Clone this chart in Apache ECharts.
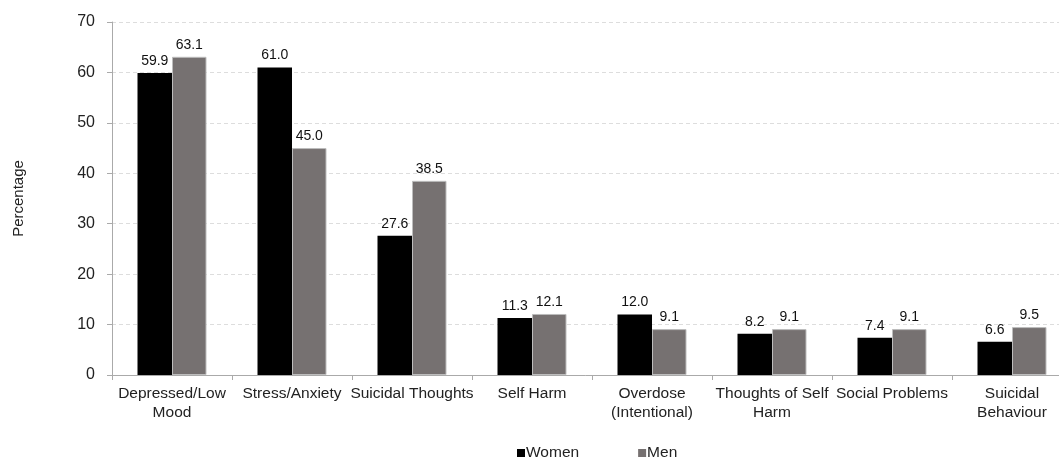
<!DOCTYPE html>
<html>
<head>
<meta charset="utf-8">
<script src="https://cdn.jsdelivr.net/npm/echarts@6/dist/echarts.min.js"></script>
<style>
  html, body { margin: 0; padding: 0; background: #fff; }
  #chart { width: 1059px; height: 459px; }
</style>
</head>
<body>
<div id="chart"></div>
<script>
// Presenting problems by gender (%)
const categories = [
  'Depressed/Low\nMood', 'Stress/Anxiety', 'Suicidal Thoughts', 'Self Harm',
  'Overdose\n(Intentional)', 'Thoughts of Self\nHarm', 'Social Problems', 'Suicidal\nBehaviour'
];
const women = [59.9, 61.0, 27.6, 11.3, 12.0, 8.2, 7.4, 6.6];
const men = [63.1, 45.0, 38.5, 12.1, 9.1, 9.1, 9.1, 9.5];

const font = 'Liberation Sans, Arial, sans-serif';
const labelStyle = {
  show: true, position: 'top', distance: 5,
  color: '#111', fontFamily: font, fontSize: 14,
  formatter: p => p.value.toFixed(1)
};

const chart = echarts.init(document.getElementById('chart'));
chart.setOption({
  animation: false,
  textStyle: { fontFamily: font },
  grid: { left: 112, top: 22, width: 960, height: 353, containLabel: false, outerBoundsMode: 'none' },
  legend: {
    top: 444, left: 517, padding: 0, itemGap: 59,
    itemWidth: 8, itemHeight: 8, icon: 'rect',
    itemStyle: { borderWidth: 0 },
    textStyle: { fontFamily: font, fontSize: 15.5, lineHeight: 18, color: '#222', padding: [0, 0, 0, -4] },
    data: ['Women', 'Men']
  },
  xAxis: {
    type: 'category', data: categories,
    axisLine: { lineStyle: { color: '#aaa' } },
    axisTick: { show: true, alignWithLabel: false, length: 5, lineStyle: { color: '#aaa' } },
    axisLabel: { color: '#222', fontFamily: font, fontSize: 15.5, lineHeight: 19, margin: 9, interval: 0 }
  },
  yAxis: {
    type: 'value', min: 0, max: 70, interval: 10,
    name: 'Percentage', nameLocation: 'middle', nameGap: 86,
    nameTextStyle: { color: '#222', fontFamily: font, fontSize: 15 },
    axisLine: { show: true, lineStyle: { color: '#aaa' } },
    axisTick: { show: true, length: 5, lineStyle: { color: '#aaa' } },
    axisLabel: { color: '#222', fontFamily: font, fontSize: 16, margin: 17 },
    splitLine: { lineStyle: { color: '#ddd', type: [4, 3] } }
  },
  series: [
    {
      name: 'Women', type: 'bar', data: women, barWidth: 34.5, barGap: '0%',
      itemStyle: { color: '#000' }, label: labelStyle
    },
    {
      name: 'Men', type: 'bar', data: men, barWidth: 34.5,
      itemStyle: { color: '#767171', borderColor: '#bdbdbd', borderWidth: 1 }, label: labelStyle
    }
  ]
});
</script>
</body>
</html>
